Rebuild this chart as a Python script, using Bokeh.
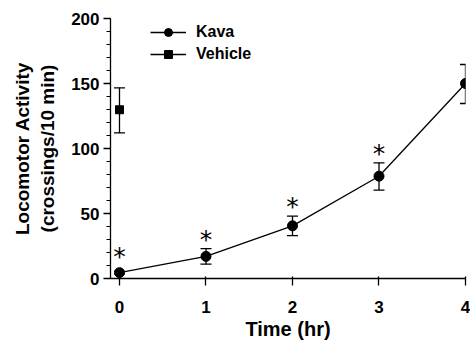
from bokeh.plotting import figure
from bokeh.models import ColumnDataSource, Whisker, TeeHead, Legend, LegendItem, FixedTicker, Range1d, Title
from bokeh.core.properties import value
from bokeh.embed import file_html
from bokeh.resources import INLINE

# Data
time_hr = [0, 1, 2, 3, 4]
kava_mean = [4.5, 17, 40.5, 78.7, 150]
kava_upper = [5.5, 23, 48, 89, 164.6]
kava_lower = [3.5, 11, 33, 68, 134.6]
vehicle_time = [0]
vehicle_mean = [129.8]
vehicle_upper = [146.7]
vehicle_lower = [112]
star_time = [0, 1, 2, 3]
star_y = [21.8, 34.8, 60, 101]
y_ticks = [0, 50, 100, 150, 200]
x_ticks = [0, 1, 2, 3, 4]

FONT = "Liberation Sans"

p = figure(width=470, height=344, output_backend="svg", toolbar_location=None,
           x_range=Range1d(-0.104, 4.0), y_range=Range1d(0, 200))
p.min_border_left = 110
p.min_border_right = 5
p.min_border_top = 18
p.min_border_bottom = 66
p.outline_line_color = None
p.xgrid.visible = False
p.ygrid.visible = False
p.background_fill_color = "white"
p.border_fill_color = "white"

kava_src = ColumnDataSource(dict(x=time_hr, y=kava_mean, up=kava_upper, lo=kava_lower))
veh_src = ColumnDataSource(dict(x=vehicle_time, y=vehicle_mean, up=vehicle_upper, lo=vehicle_lower))

for src in (kava_src, veh_src):
    w = Whisker(source=src, base="x", upper="up", lower="lo", dimension="height",
                line_color="black", line_width=1.3,
                upper_head=TeeHead(size=11, line_color="black", line_width=1.3),
                lower_head=TeeHead(size=11, line_color="black", line_width=1.3))
    p.add_layout(w)

kl = p.line("x", "y", source=kava_src, line_color="black", line_width=1.3)
kc = p.scatter("x", "y", source=kava_src, marker="circle", size=10,
               fill_color="black", line_color="black")
vl = p.line("x", "y", source=veh_src, line_color="black", line_width=1.3)
vs = p.scatter("x", "y", source=veh_src, marker="square", size=8,
               fill_color="black", line_color="black")

p.text(x=star_time, y=star_y, text=["*"] * len(star_time), text_font=value("DejaVu Sans"),
       text_font_size="25px", text_align="center", text_baseline="alphabetic",
       y_offset=6, text_color="black")

legend = Legend(items=[LegendItem(label="Kava", renderers=[kl, kc]),
                       LegendItem(label="Vehicle", renderers=[vl, vs])],
                location=(40, 214), orientation="vertical")
legend.border_line_color = None
legend.background_fill_alpha = 0
legend.margin = 0
legend.padding = 0
legend.spacing = 2
legend.glyph_width = 36
legend.glyph_height = 20
legend.label_height = 20
legend.label_standoff = 10
legend.label_text_font = FONT
legend.label_text_font_style = "bold"
legend.label_text_font_size = "16px"
legend.label_text_color = "black"
p.add_layout(legend)

# Axes
p.yaxis.ticker = FixedTicker(ticks=y_ticks, minor_ticks=list(range(0, 201, 10)))
p.xaxis.ticker = FixedTicker(ticks=x_ticks, minor_ticks=[])
for ax in (p.xaxis[0], p.yaxis[0]):
    ax.axis_line_color = "black"
    ax.axis_line_width = 1.3
    ax.major_tick_line_color = "black"
    ax.major_tick_line_width = 1.3
    ax.minor_tick_line_color = "black"
    ax.major_label_text_font = FONT
    ax.major_label_text_font_style = "bold"
    ax.major_label_text_font_size = "17px"
    ax.major_label_text_color = "black"
    ax.axis_label_text_font = FONT
    ax.axis_label_text_font_style = "bold"
    ax.axis_label_text_color = "black"

p.yaxis.major_tick_out = 7
p.yaxis.major_tick_in = 0
p.yaxis.minor_tick_out = 4
p.yaxis.minor_tick_in = 0
p.yaxis.major_label_standoff = 4
p.yaxis.axis_label = "Locomotor Activity\n(crossings/10 min)"
p.yaxis.axis_label_text_font_size = "19px"
p.yaxis.axis_label_standoff = 10

p.xaxis.major_tick_out = 7
p.xaxis.major_tick_in = 2
p.xaxis.minor_tick_out = 0
p.xaxis.minor_tick_in = 0
p.xaxis.major_label_standoff = 15

xtitle = Title(text="Time (hr)", align="center", text_font=FONT, text_font_style="bold",
               text_font_size="20px", text_color="black", standoff=0, offset=0)
p.add_layout(xtitle, "below")

open("out.html", "w").write(file_html(p, INLINE))
